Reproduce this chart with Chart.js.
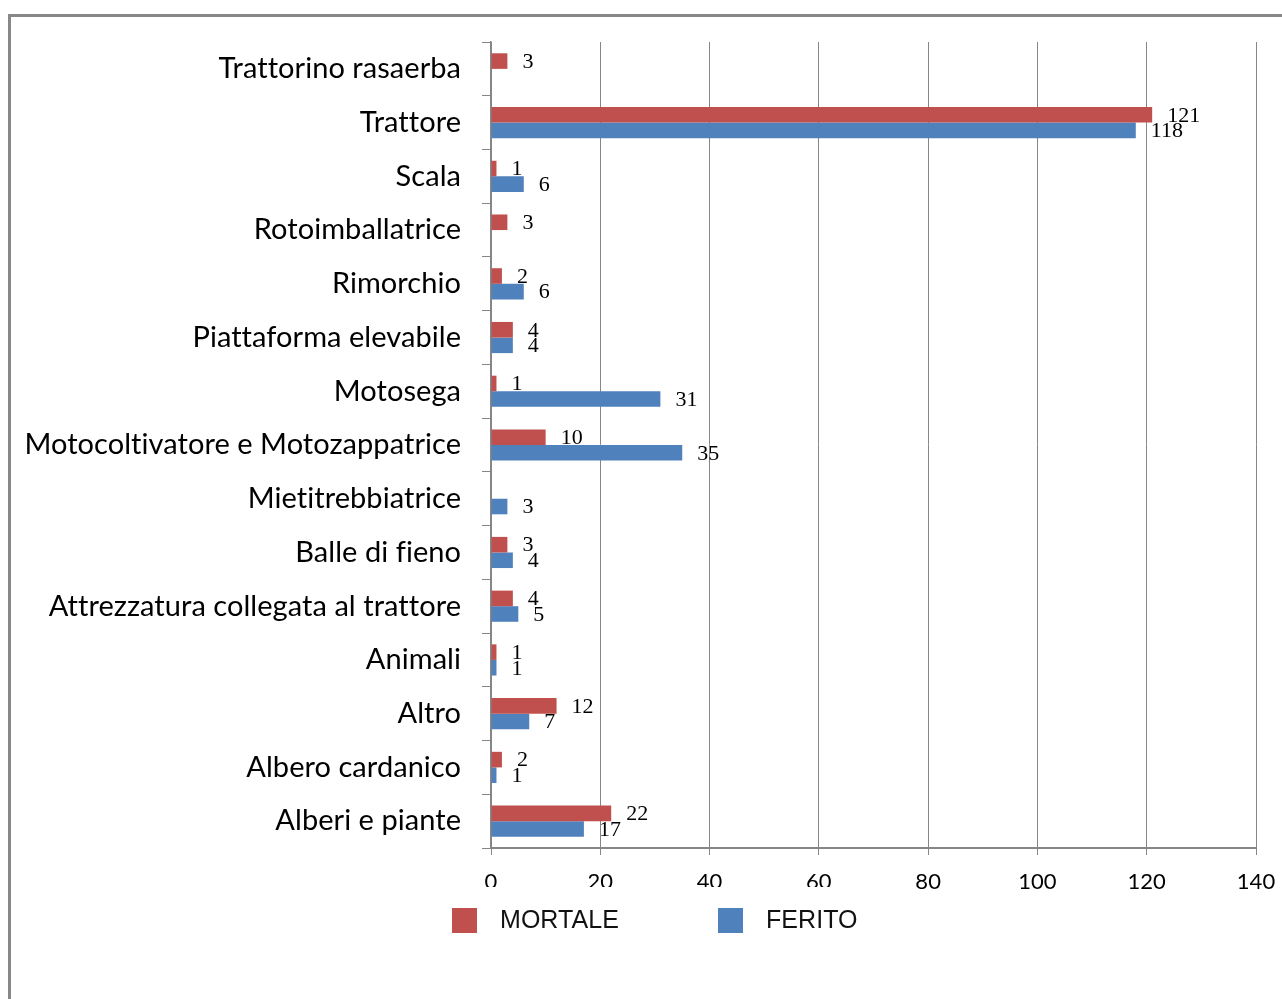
<!DOCTYPE html>
<html>
<head>
<meta charset="utf-8">
<script src="https://cdn.jsdelivr.net/npm/chart.js@4.4.1/dist/chart.umd.min.js"></script>
<style>
  html, body { margin: 0; padding: 0; background: #fff; overflow: hidden; }
  #wrap { position: relative; width: 1282px; height: 999px; }
  #frame { position: absolute; left: 8px; top: 14px; width: 1400px; height: 1100px; border: 3px solid #888; pointer-events: none; }
  canvas { position: absolute; left: 0; top: 0; }
</style>
</head>
<body>
<div id="wrap">
  <div id="frame"></div>
  <canvas id="chart" width="1282" height="999"></canvas>
</div>
<script>
const categories = [
  'Trattorino rasaerba', 'Trattore', 'Scala', 'Rotoimballatrice', 'Rimorchio',
  'Piattaforma elevabile', 'Motosega', 'Motocoltivatore e Motozappatrice',
  'Mietitrebbiatrice', 'Balle di fieno', 'Attrezzatura collegata al trattore',
  'Animali', 'Altro', 'Albero cardanico', 'Alberi e piante'
];
const mortale = [3, 121, 1, 3, 2, 4, 1, 10, null, 3, 4, 1, 12, 2, 22];
const ferito = [null, 118, 6, null, 6, 4, 31, 35, 3, 4, 5, 1, 7, 1, 17];
const xTicks = [0, 20, 40, 60, 80, 100, 120, 140];

const redColor = '#C0504D';
const blueColor = '#4F81BD';
const gridColor = '#868686';

Chart.defaults.font.family = "Lato, 'Noto Sans', sans-serif";
Chart.defaults.color = '#000';

// a hair of letter spacing keeps Lato from joining "tt" / "fi"
const noLigatures = {
  id: 'noLigatures',
  beforeDraw(chart) { chart.ctx.letterSpacing = '0.05px'; }
};

// value labels to the right of each bar
const valueLabels = {
  id: 'valueLabels',
  afterDatasetsDraw(chart) {
    const ctx = chart.ctx;
    ctx.save();
    ctx.font = "22px 'Liberation Serif', serif";
    ctx.fillStyle = '#000';
    ctx.textAlign = 'left';
    ctx.textBaseline = 'middle';
    chart.data.datasets.forEach((ds, di) => {
      chart.getDatasetMeta(di).data.forEach((bar, i) => {
        const v = ds.data[i];
        if (v === null || v === undefined) return;
        ctx.fillText(String(v), bar.x + 15, bar.y + 1);
      });
    });
    ctx.restore();
  }
};

// legend drawn under the axis, over a white backing like the original
const bottomLegend = {
  id: 'bottomLegend',
  afterDraw(chart) {
    const ctx = chart.ctx;
    const items = [
      { boxX: 452, textX: 500, bg: [433, 887, 200, 68] },
      { boxX: 718, textX: 766, bg: [702, 887, 165, 68] }
    ];
    ctx.save();
    chart.data.datasets.forEach((ds, i) => {
      const it = items[i];
      ctx.fillStyle = '#fff';
      ctx.fillRect(...it.bg);
      ctx.fillStyle = ds.backgroundColor;
      ctx.fillRect(it.boxX, 908, 25, 25);
      ctx.font = "25px 'Liberation Sans', sans-serif";
      ctx.fillStyle = '#111';
      ctx.textAlign = 'left';
      ctx.textBaseline = 'middle';
      ctx.fillText(ds.label, it.textX, 921);
    });
    ctx.restore();
  }
};

new Chart(document.getElementById('chart'), {
  type: 'bar',
  data: {
    labels: categories,
    datasets: [
      { label: 'MORTALE', data: mortale, backgroundColor: redColor },
      { label: 'FERITO', data: ferito, backgroundColor: blueColor }
    ]
  },
  options: {
    indexAxis: 'y',
    responsive: false,
    animation: false,
    datasets: { bar: { categoryPercentage: 0.58, barPercentage: 1 } },
    layout: { padding: { left: 0, top: 42, right: 26, bottom: 0 } },
    plugins: { legend: { display: false }, tooltip: { enabled: false } },
    scales: {
      x: {
        min: 0, max: 140,
        afterBuildTicks: (scale) => { scale.ticks = xTicks.map(v => ({ value: v })); },
        afterFit: (scale) => {
          scale.height = 151;
          scale.paddingLeft = 0;
          scale.paddingRight = 0;
        },
        grid: { color: gridColor, lineWidth: 1, tickLength: 7, tickColor: gridColor },
        border: { color: gridColor, width: 2 },
        ticks: { font: { size: 22 }, padding: 14, color: '#000' }
      },
      y: {
        afterFit: (scale) => { scale.width = 491; },
        grid: { drawOnChartArea: false, tickLength: 9, tickColor: gridColor, offset: true },
        border: { color: gridColor, width: 1.5 },
        ticks: { font: { size: 29 }, padding: 21, color: '#000' }
      }
    }
  },
  plugins: [noLigatures, valueLabels, bottomLegend]
});
</script>
</body>
</html>
